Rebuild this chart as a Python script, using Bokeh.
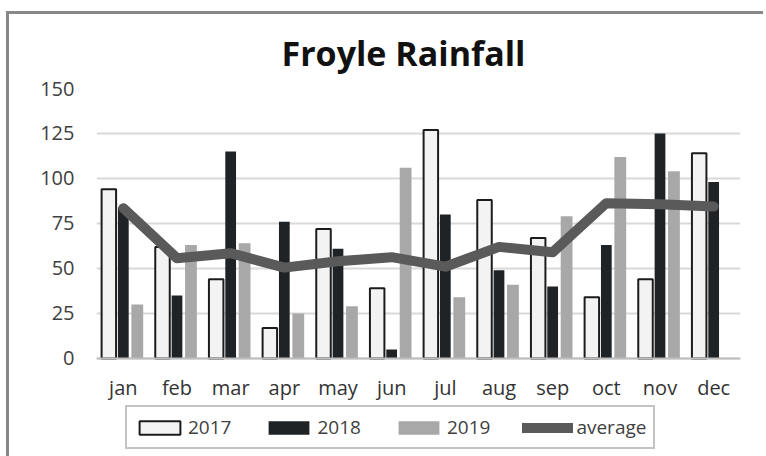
import math
from bokeh.plotting import figure
from bokeh.models import ColumnDataSource, Legend, LegendItem, FactorRange
from bokeh.transform import dodge
from bokeh.embed import file_html
from bokeh.resources import INLINE

months = ["jan", "feb", "mar", "apr", "may", "jun", "jul", "aug", "sep", "oct", "nov", "dec"]
rain_2017 = [94, 62, 44, 17, 72, 39, 127, 88, 67, 34, 44, 114]
rain_2018 = [84, 35, 115, 76, 61, 5, 80, 49, 40, 63, 125, 98]
rain_2019 = [30, 63, 64, 25, 29, 106, 34, 41, 79, 112, 104, None]
average = [83.5, 55.7, 58.5, 50.5, 54, 56.3, 51, 62, 59, 86.3, 85.7, 84.4]
y_ticks = [0, 25, 50, 75, 100, 125, 150]

src = ColumnDataSource(dict(
    month=months,
    y17=rain_2017,
    y18=rain_2018,
    y19=[math.nan if v is None else v for v in rain_2019],
    avg=average,
))

# y range extends below zero so the legend can sit inside the frame under the x axis
p = figure(
    x_range=FactorRange(factors=months, range_padding=0),
    y_range=(-50.56, 150),
    frame_width=644, frame_height=361,
    min_border_left=87, min_border_right=23, min_border_top=72, min_border_bottom=7,
    output_backend="svg", toolbar_location=None,
    title="Froyle Rainfall",
)
p.styles = {"border-left": "3px solid #888888", "border-top": "3px solid #888888",
            "margin-top": "11px", "margin-left": "6px"}

r17 = p.vbar(x=dodge("month", -0.27, range=p.x_range), top="y17", width=0.27, source=src,
             fill_color="#f3f3f3", line_color="#1c1c1c", line_width=2)
r18 = p.vbar(x=dodge("month", 0.0, range=p.x_range), top="y18", width=0.2, source=src,
             fill_color="#1f2326", line_color=None)
r19 = p.vbar(x=dodge("month", 0.26, range=p.x_range), top="y19", width=0.22, source=src,
             fill_color="#a8a8a8", line_color=None)
ravg = p.line(x="month", y="avg", source=src, line_width=10, line_color="#5a5a5a",
              line_join="round", line_cap="round")

p.title.align = "left"
p.title.offset = 185
p.title.text_font = "Open Sans"
p.title.text_font_size = "34px"
p.title.text_font_style = "bold"
p.title.text_color = "#111111"
p.title.standoff = 26

p.outline_line_color = None
p.xgrid.grid_line_color = None
p.ygrid.grid_line_color = "#d9d9d9"
p.ygrid.grid_line_width = 2
p.yaxis.ticker = y_ticks
p.yaxis.axis_line_color = None
p.yaxis.major_tick_line_color = None
p.yaxis.minor_tick_line_color = None
p.yaxis.major_label_text_font = "Open Sans"
p.yaxis.major_label_text_font_size = "20px"
p.yaxis.major_label_text_color = "#404040"
p.yaxis.major_label_standoff = 16

p.xaxis.fixed_location = 0
p.xaxis.axis_line_color = "#bdbdbd"
p.xaxis.axis_line_width = 2
p.xaxis.major_tick_line_color = None
p.xaxis.minor_tick_line_color = None
p.xaxis.major_label_text_font = "Open Sans"
p.xaxis.major_label_text_font_size = "20px"
p.xaxis.major_label_text_color = "#333333"
p.xaxis.major_label_standoff = 10

legend = Legend(
    items=[
        LegendItem(label="2017", renderers=[r17]),
        LegendItem(label="2018", renderers=[r18]),
        LegendItem(label="2019", renderers=[r19]),
        LegendItem(label="average", renderers=[ravg]),
    ],
    orientation="horizontal", location=(29, 0), margin=0,
    border_line_color="#888888", border_line_width=2,
    label_text_font="Open Sans", label_text_font_size="19px", label_text_color="#404040",
    glyph_width=51, glyph_height=17, label_standoff=3, spacing=32, padding=7,
)
p.add_layout(legend, "center")

open("out.html", "w").write(file_html(p, INLINE))
